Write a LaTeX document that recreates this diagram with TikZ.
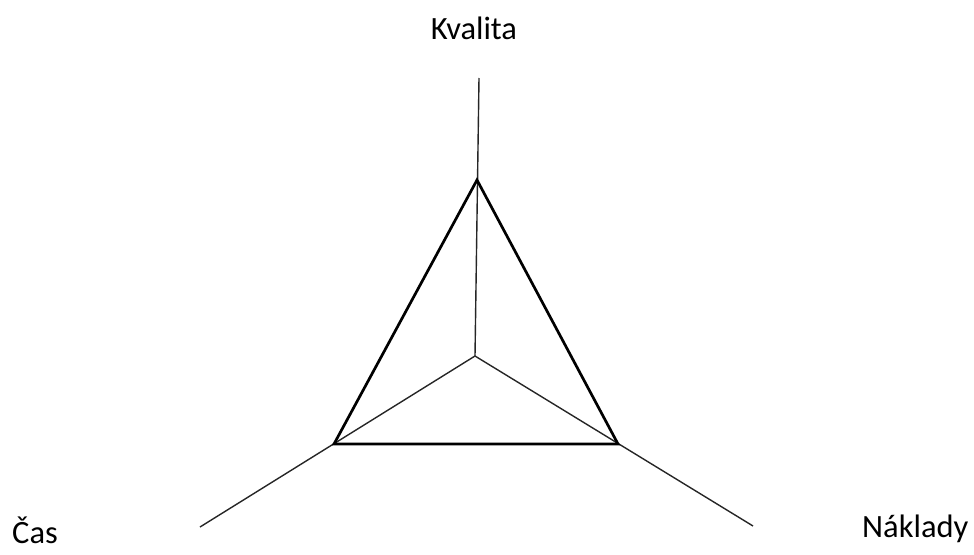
\documentclass[tikz,border=0pt]{standalone}
\usepackage{fontspec}
\setmainfont{Carlito}
\usepackage{tikz}
\usetikzlibrary{positioning}

\begin{document}
\begin{tikzpicture}[
  x=1pt, y=-1pt,
  axis/.style={draw=black!85, line width=1.4pt},
  triangle/.style={draw=black, line width=2.7pt, line join=miter},
  label/.style={font=\fontsize{32.5}{38}\selectfont, inner sep=0pt}
]
  \useasboundingbox (0,0) rectangle (974,554);

  \coordinate (center) at (475,356);
  \coordinate (top) at (477,180);
  \coordinate (left) at (334,444);
  \coordinate (right) at (618,444);
  \coordinate (topend) at (479,78);
  \coordinate (leftend) at (200,527);
  \coordinate (rightend) at (753,526);

  \node[label, anchor=base] (kvalita) at (474,39) {Kvalita};
  \node[label, anchor=base west] (cas) at (12,543) {Čas};
  \node[label, anchor=base west] (naklady) at (862,537) {Náklady};

  \draw[axis] (center) -- (topend);
  \draw[axis] (center) -- (leftend);
  \draw[axis] (center) -- (rightend);
  \draw[triangle] (top) -- (left) -- (right) -- cycle;
\end{tikzpicture}
\end{document}
